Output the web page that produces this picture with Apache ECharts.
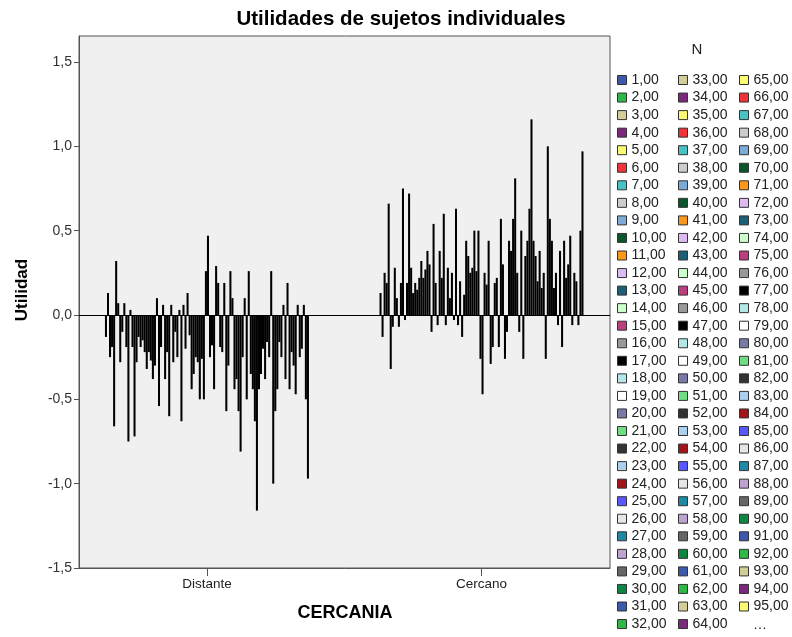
<!DOCTYPE html>
<html>
<head>
<meta charset="utf-8">
<script src="https://cdn.jsdelivr.net/npm/echarts@6/dist/echarts.min.js"></script>
<style>
  html, body { margin: 0; padding: 0; background: #ffffff; }
  #chart { width: 792px; height: 637px; }
</style>
</head>
<body>
<div id="chart"></div>
<script>
// Levels of the CERCANIA attribute, placed at x = 0 and x = 1
const categories = ['Distante', 'Cercano'];
const categoryPositions = [0, 1];

// Part-worth utility of each subject for the "Distante" level
const distante = [
  -0.13, 0.13, -0.25, -0.19, -0.66, 0.32, 0.07, -0.28, -0.10, 0.07,
  -0.19, -0.75, 0.03, -0.19, -0.72, -0.28, -0.13, -0.19, -0.15, -0.22,
  -0.32, -0.22, -0.27, -0.38, -0.30, 0.10, -0.54, -0.19, 0.06, -0.38,
  -0.22, -0.60, 0.06, -0.28, -0.10, -0.25, 0.03, -0.63, 0.06, -0.20,
  0.13, -0.12, -0.44, -0.35, -0.25, -0.28, -0.50, -0.26, -0.50, 0.26,
  0.47, -0.25, -0.18, -0.44, 0.29, 0.19, -0.19, -0.22, 0.19, -0.57,
  -0.30, 0.26, 0.10, -0.44, -0.38, -0.57, -0.81, -0.25, 0.10, -0.50,
  0.26, -0.35, -0.44, -0.63, -1.16, -0.44, -0.35, -0.20, -0.38, -0.16,
  -0.25, 0.26, -1.00, -0.57, -0.44, -0.16, -0.25, 0.06, -0.38, 0.19,
  -0.44, -0.22, -0.30, -0.47, 0.06, -0.25, -0.20, 0.06, -0.50, -0.97
];

// Part-worth utility of each subject for the "Cercano" level
const cercano = [
  0.13, -0.13, 0.25, 0.19, 0.66, -0.32, -0.07, 0.28, 0.10, -0.07,
  0.19, 0.75, -0.03, 0.19, 0.72, 0.28, 0.13, 0.19, 0.15, 0.22,
  0.32, 0.22, 0.27, 0.38, 0.30, -0.10, 0.54, 0.19, -0.06, 0.38,
  0.22, 0.60, -0.06, 0.28, 0.10, 0.25, -0.03, 0.63, -0.06, 0.20,
  -0.13, 0.12, 0.44, 0.35, 0.25, 0.28, 0.50, 0.26, 0.50, -0.26,
  -0.47, 0.25, 0.18, 0.44, -0.29, -0.19, 0.19, 0.22, -0.19, 0.57,
  0.30, -0.26, -0.10, 0.44, 0.38, 0.57, 0.81, 0.25, -0.10, 0.50,
  -0.26, 0.35, 0.44, 0.63, 1.16, 0.44, 0.35, 0.20, 0.38, 0.16,
  0.25, -0.26, 1.00, 0.57, 0.44, 0.16, 0.25, -0.06, 0.38, -0.19,
  0.44, 0.22, 0.30, 0.47, -0.06, 0.25, 0.20, -0.06, 0.50, 0.97
];

// Y axis tick values
const yTicks = [-1.5, -1.0, -0.5, 0.0, 0.5, 1.0, 1.5];

// Subject labels (N) shown in the legend, written with a decimal comma
const subjectNames = distante.map((_, i) => (i + 1).toFixed(2).replace('.', ','));
const legendShown = 95;

// Repeating 30-colour series palette
const palette = [
  '#3e58ac', '#2eb848', '#d3ce97', '#7c287d', '#fbf873', '#ef3338',
  '#48c2c5', '#cccccc', '#7aaad5', '#0a562c', '#f8981d', '#ddbaf1',
  '#1a5f76', '#ccffcc', '#bb3f7f', '#999999', '#000000', '#b6e7e8',
  '#ffffff', '#797aa7', '#70dc84', '#333333', '#acd0ee', '#a21619',
  '#5858ff', '#e6e6e6', '#1d89a4', '#bea2d0', '#666666', '#0f8542'
];

const FONT = 'Liberation Sans, Arial, sans-serif';
const fmtComma = (v, d) => v.toFixed(d).replace('.', ',');

const series = distante.map((d, i) => ({
  name: subjectNames[i],
  type: 'bar',
  data: [[categoryPositions[0], d], [categoryPositions[1], cercano[i]]],
  barGap: '0%',
  barCategoryGap: '25.7%',
  itemStyle: { color: palette[i % palette.length], borderColor: '#000000', borderWidth: 1.3 },
  emphasis: { disabled: true },
  animation: false
}));

// Zero reference line across the plot
series[series.length - 1].markLine = {
  silent: true,
  symbol: 'none',
  label: { show: false },
  lineStyle: { color: '#000000', width: 1.2, type: 'solid' },
  data: [{ yAxis: 0 }],
  animation: false
};

const legendCols = [0, 1, 2].map(c => ({
  orient: 'vertical',
  left: [617, 678, 739][c],
  top: 73,
  height: 590,
  padding: 0,
  data: subjectNames.slice(c * 32, Math.min(c * 32 + 32, legendShown)),
  icon: 'rect',
  itemWidth: 9,
  itemHeight: 9,
  itemGap: 3.55,
  selectedMode: false,
  itemStyle: { borderColor: '#333333', borderWidth: 1 },
  textStyle: { fontFamily: FONT, fontSize: 14, color: '#222222', lineHeight: 14 }
}));

const chart = echarts.init(document.getElementById('chart'), null, { renderer: 'canvas' });
chart.setOption({
  backgroundColor: '#ffffff',
  animation: false,
  grid: {
    left: 79, top: 36, width: 531, height: 532,
    show: true, backgroundColor: '#f0f0f0', borderColor: '#555555', borderWidth: 1
  },
  xAxis: {
    type: 'value',
    min: -0.466,
    max: 1.468,
    position: 'bottom',
    splitLine: { show: false },
    axisLine: { show: true, onZero: false, lineStyle: { color: '#555555' } },
    axisTick: { show: true, customValues: categoryPositions, length: 8, lineStyle: { color: '#555555' } },
    axisLabel: {
      customValues: categoryPositions,
      formatter: v => categories[Math.round(v)],
      fontFamily: FONT, fontSize: 13.5, color: '#222222', margin: 9
    }
  },
  yAxis: {
    type: 'value',
    min: yTicks[0],
    max: 1.654,
    interval: 0.5,
    position: 'left',
    splitLine: { show: false },
    axisLine: { show: true, onZero: false, lineStyle: { color: '#555555' } },
    axisTick: { show: true, length: 5, lineStyle: { color: '#555555' } },
    axisLabel: {
      showMaxLabel: false,
      formatter: v => (yTicks.some(t => Math.abs(t - v) < 1e-6) ? fmtComma(v, 1) : ''),
      fontFamily: FONT, fontSize: 14, color: '#333333', margin: 7
    }
  },
  legend: legendCols,
  graphic: [
    {
      type: 'text',
      style: { text: 'Utilidades de sujetos individuales', x: 401, y: 19, align: 'center',
               verticalAlign: 'middle', font: 'bold 20.5px ' + FONT, fill: '#000000' }
    },
    {
      type: 'text',
      style: { text: 'CERCANIA', x: 345, y: 613, align: 'center', verticalAlign: 'middle',
               font: 'bold 18px ' + FONT, fill: '#000000' }
    },
    {
      type: 'text', x: 22, y: 290, rotation: Math.PI / 2,
      style: { text: 'Utilidad', align: 'center', verticalAlign: 'middle',
               font: 'bold 17px ' + FONT, fill: '#000000' }
    },
    {
      type: 'text',
      style: { text: 'N', x: 697, y: 50, align: 'center', verticalAlign: 'middle',
               font: '15px ' + FONT, fill: '#222222' }
    },
    {
      type: 'text',
      style: { text: '…', x: 760, y: 625, align: 'center', verticalAlign: 'middle',
               font: '14px ' + FONT, fill: '#222222' }
    }
  ],
  series: series
});
</script>
</body>
</html>
